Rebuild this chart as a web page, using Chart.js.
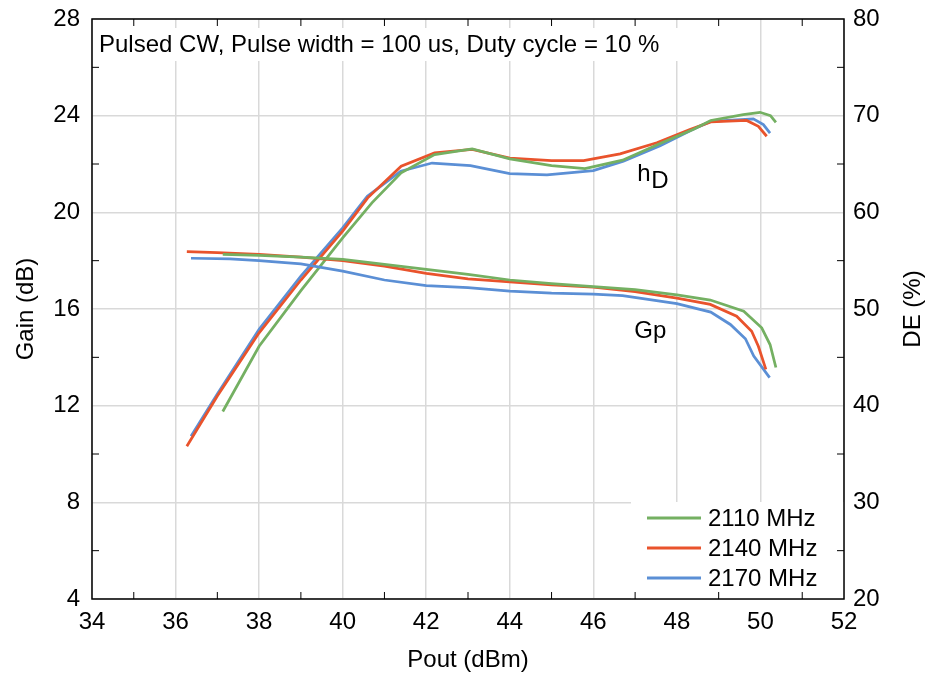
<!DOCTYPE html>
<html>
<head>
<meta charset="utf-8">
<script src="https://cdn.jsdelivr.net/npm/chart.js@4.4.0/dist/chart.umd.min.js"></script>
<style>
  html, body { margin: 0; padding: 0; background: #fff; }
  canvas { display: block; }
</style>
</head>
<body>
<canvas id="chart" width="928" height="682"></canvas>
<script>
// Gain (left axis, dB) vs Pout (dBm)
const poutGain2110 = [37.13, 38, 39, 40, 41, 42, 43, 44, 45, 46, 47, 48, 48.8, 49.6, 50.03, 50.23, 50.37];
const gain2110     = [18.26, 18.22, 18.15, 18.05, 17.85, 17.64, 17.43, 17.2, 17.05, 16.93, 16.8, 16.58, 16.37, 15.91, 15.22, 14.53, 13.58];
const poutGain2140 = [36.27, 37, 38, 39, 40, 41, 42, 43, 44, 45, 46, 47, 48, 48.8, 49.43, 49.79, 49.95, 50.13];
const gain2140     = [18.37, 18.33, 18.26, 18.15, 18.0, 17.77, 17.47, 17.25, 17.12, 17.0, 16.9, 16.72, 16.45, 16.19, 15.7, 15.08, 14.46, 13.5];
const poutGain2170 = [36.37, 37.3, 38, 39, 40, 41, 42, 43, 44, 45, 46, 46.7, 48, 48.81, 49.28, 49.64, 49.84, 50.22];
const gain2170     = [18.1, 18.07, 18.0, 17.87, 17.57, 17.2, 16.97, 16.88, 16.74, 16.66, 16.62, 16.55, 16.22, 15.87, 15.36, 14.77, 14.05, 13.16];

// Drain efficiency (right axis, %) vs Pout (dBm)
const poutDE2110 = [37.13, 38, 39, 40, 40.7, 41.4, 42.2, 43.1, 44, 45, 45.8, 46.7, 47.64, 48.4, 48.81, 49.59, 49.99, 50.24, 50.37];
const de2110     = [39.4, 46.15, 51.9, 57.36, 60.98, 64.08, 65.98, 66.56, 65.53, 64.84, 64.53, 65.4, 67.2, 68.6, 69.5, 70.1, 70.35, 70.0, 69.3];
const poutDE2140 = [36.27, 37, 38, 39, 40, 40.6, 41.4, 42.2, 43.1, 44, 45, 45.77, 46.64, 47.52, 48.31, 48.81, 49.67, 49.95, 50.15];
const de2140     = [35.8, 41.0, 47.54, 53.0, 58.05, 61.5, 64.77, 66.15, 66.5, 65.6, 65.36, 65.36, 66.05, 67.2, 68.56, 69.36, 69.5, 68.9, 67.87];
const poutDE2170 = [36.37, 37, 38, 39, 40, 40.59, 41.39, 42.14, 43.06, 44, 44.89, 46, 46.72, 47.6, 48.39, 48.81, 49.83, 50.07, 50.23];
const de2170     = [36.85, 41.2, 47.9, 53.4, 58.4, 61.66, 64.25, 65.1, 64.84, 64.0, 63.87, 64.32, 65.3, 66.9, 68.6, 69.4, 69.67, 69.08, 68.2];

const seriesLabels = ['2110 MHz', '2140 MHz', '2170 MHz'];
const seriesColors = ['#74b062', '#e9532c', '#5b8fd5'];
const noteText = 'Pulsed CW, Pulse width = 100 us, Duty cycle = 10 %';
const rightTitle = 'DE (%)';

const FONT = 'Liberation Sans, Arial, sans-serif';

function toPoints(xs, ys) {
    return xs.map((x, i) => ({ x: x, y: ys[i] }));
}

function lineSet(label, color, xs, ys, axis) {
    return {
        label: label,
        data: toPoints(xs, ys),
        borderColor: color,
        backgroundColor: color,
        borderWidth: 2.75,
        pointRadius: 0,
        tension: 0,
        fill: false,
        yAxisID: axis
    };
}

// Boxes behind the curves (they hide the grid)
const boxPlugin = {
    id: 'boxes',
    beforeDatasetsDraw(chart) {
        const ctx = chart.ctx;
        const a = chart.chartArea;
        ctx.save();
        ctx.fillStyle = '#fff';
        ctx.fillRect(a.left + 1, 28, 588, 33);
        ctx.fillRect(631, 502, a.right - 631, a.bottom - 502);
        ctx.restore();
    }
};

// Frame, minor ticks, note, labels and legend
const decoPlugin = {
    id: 'deco',
    afterDraw(chart) {
        const ctx = chart.ctx;
        const a = chart.chartArea;
        const xs = chart.scales.x, ys = chart.scales.y;
        ctx.save();
        ctx.strokeStyle = '#000';
        ctx.lineWidth = 1.5;
        ctx.strokeRect(a.left, a.top, a.right - a.left, a.bottom - a.top);

        // minor ticks pointing inward
        ctx.lineWidth = 1;
        ctx.beginPath();
        for (let v = 35; v < 52; v += 2) {
            const px = xs.getPixelForValue(v);
            ctx.moveTo(px, a.bottom); ctx.lineTo(px, a.bottom - 7);
            ctx.moveTo(px, a.top); ctx.lineTo(px, a.top + 7);
        }
        for (let v = 6; v < 28; v += 4) {
            const py = ys.getPixelForValue(v);
            ctx.moveTo(a.left, py); ctx.lineTo(a.left + 7, py);
            ctx.moveTo(a.right, py); ctx.lineTo(a.right - 7, py);
        }
        ctx.stroke();

        ctx.fillStyle = '#000';
        ctx.textBaseline = 'middle';
        ctx.textAlign = 'left';
        ctx.font = '24px ' + FONT;
        ctx.fillText(noteText, a.left + 7, 45);

        // right axis title, reading bottom to top
        ctx.save();
        ctx.translate(913, (a.top + a.bottom) / 2);
        ctx.rotate(-Math.PI / 2);
        ctx.textAlign = 'center';
        ctx.fillText(rightTitle, 0, 0);
        ctx.restore();

        // curve labels
        ctx.textBaseline = 'alphabetic';
        const hx = xs.getPixelForValue(47.05);
        ctx.fillText('h', hx, ys.getPixelForValue(21.29));
        ctx.fillText('D', hx + 14, ys.getPixelForValue(20.99));
        ctx.fillText('Gp', xs.getPixelForValue(46.98), ys.getPixelForValue(14.82));

        // legend
        const rows = [518, 548, 578];
        ctx.textBaseline = 'middle';
        for (let i = 0; i < 3; i++) {
            const ds = chart.data.datasets[i];
            ctx.strokeStyle = ds.borderColor;
            ctx.lineWidth = 3;
            ctx.beginPath();
            ctx.moveTo(647, rows[i]);
            ctx.lineTo(701, rows[i]);
            ctx.stroke();
            ctx.fillStyle = '#000';
            ctx.fillText(ds.label, 708, rows[i] + 1);
        }
        ctx.restore();
    }
};

const tickFont = { family: FONT, size: 24 };

new Chart(document.getElementById('chart'), {
    type: 'line',
    data: {
        datasets: [
            lineSet(seriesLabels[0], seriesColors[0], poutGain2110, gain2110, 'y'),
            lineSet(seriesLabels[1], seriesColors[1], poutGain2140, gain2140, 'y'),
            lineSet(seriesLabels[2], seriesColors[2], poutGain2170, gain2170, 'y'),
            lineSet(seriesLabels[0], seriesColors[0], poutDE2110, de2110, 'y2'),
            lineSet(seriesLabels[1], seriesColors[1], poutDE2140, de2140, 'y2'),
            lineSet(seriesLabels[2], seriesColors[2], poutDE2170, de2170, 'y2')
        ]
    },
    options: {
        responsive: false,
        animation: false,
        devicePixelRatio: 1,
        layout: { padding: { top: 19, left: 0, right: 0, bottom: 0 } },
        plugins: {
            legend: { display: false },
            tooltip: { enabled: false }
        },
        scales: {
            x: {
                type: 'linear',
                min: 34,
                max: 52,
                ticks: { stepSize: 2, color: '#000', font: tickFont, padding: 9, maxRotation: 0 },
                grid: { color: '#d9d9d9', lineWidth: 1.5, drawTicks: false },
                border: { display: false },
                title: { display: true, text: 'Pout (dBm)', color: '#000', font: tickFont, padding: { top: 0, bottom: 7 } },
                afterFit: s => { s.height = 83; s.paddingLeft = 0; s.paddingRight = 0; }
            },
            y: {
                position: 'left',
                min: 4,
                max: 28,
                ticks: { stepSize: 4, color: '#000', font: tickFont, padding: 12 },
                grid: { color: '#d9d9d9', lineWidth: 1.5, drawTicks: false },
                border: { display: false },
                title: { display: true, text: 'Gain (dB)', color: '#000', font: tickFont, padding: { top: 12, bottom: 0 } },
                afterFit: s => { s.width = 92; s.paddingTop = 0; s.paddingBottom = 0; }
            },
            y2: {
                position: 'right',
                min: 20,
                max: 80,
                ticks: { stepSize: 10, color: '#000', font: tickFont, padding: 9 },
                grid: { drawOnChartArea: false, drawTicks: false },
                border: { display: false },
                afterFit: s => { s.width = 84; s.paddingTop = 0; s.paddingBottom = 0; }
            }
        }
    },
    plugins: [boxPlugin, decoPlugin]
});
</script>
</body>
</html>
